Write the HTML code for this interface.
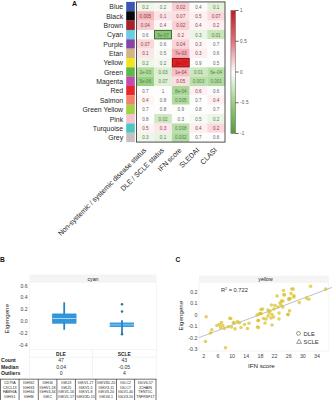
<!DOCTYPE html>
<html><head><meta charset="utf-8"><style>
html,body{margin:0;padding:0;background:#fff;}
body{width:332px;height:400px;overflow:hidden;}
svg{display:block;font-family:"Liberation Sans",sans-serif;}
</style></head><body>
<svg width="332" height="400" viewBox="0 0 332 400">
<rect width="332" height="400" fill="#fff"/>
<text x="72.0" y="5.95" font-size="7" font-weight="bold" fill="#111">A</text>
<text x="123.1" y="9.37" font-size="6.9" text-anchor="end" fill="#262626">Blue</text>
<rect x="126.2" y="1.90" width="8.6" height="9.40" fill="#3a56b4"/>
<text x="123.1" y="18.72" font-size="6.9" text-anchor="end" fill="#262626">Black</text>
<rect x="126.2" y="11.25" width="8.6" height="9.40" fill="#0a0a0a"/>
<text x="123.1" y="28.07" font-size="6.9" text-anchor="end" fill="#262626">Brown</text>
<rect x="126.2" y="20.59" width="8.6" height="9.40" fill="#a8222a"/>
<text x="123.1" y="37.41" font-size="6.9" text-anchor="end" fill="#262626">Cyan</text>
<rect x="126.2" y="29.94" width="8.6" height="9.40" fill="#6acde6"/>
<text x="123.1" y="46.76" font-size="6.9" text-anchor="end" fill="#262626">Purple</text>
<rect x="126.2" y="39.29" width="8.6" height="9.40" fill="#8646a8"/>
<text x="123.1" y="56.11" font-size="6.9" text-anchor="end" fill="#262626">Etan</text>
<rect x="126.2" y="48.63" width="8.6" height="9.40" fill="#d2b48a"/>
<text x="123.1" y="65.45" font-size="6.9" text-anchor="end" fill="#262626">Yellow</text>
<rect x="126.2" y="57.98" width="8.6" height="9.40" fill="#f2e41e"/>
<text x="123.1" y="74.80" font-size="6.9" text-anchor="end" fill="#262626">Green</text>
<rect x="126.2" y="67.33" width="8.6" height="9.40" fill="#5cb84a"/>
<text x="123.1" y="84.15" font-size="6.9" text-anchor="end" fill="#262626">Magenta</text>
<rect x="126.2" y="76.67" width="8.6" height="9.40" fill="#c04eb0"/>
<text x="123.1" y="93.49" font-size="6.9" text-anchor="end" fill="#262626">Red</text>
<rect x="126.2" y="86.02" width="8.6" height="9.40" fill="#e82626"/>
<text x="123.1" y="102.84" font-size="6.9" text-anchor="end" fill="#262626">Salmon</text>
<rect x="126.2" y="95.37" width="8.6" height="9.40" fill="#f2826e"/>
<text x="123.1" y="112.19" font-size="6.9" text-anchor="end" fill="#262626">Green Yellow</text>
<rect x="126.2" y="104.71" width="8.6" height="9.40" fill="#a2d244"/>
<text x="123.1" y="121.53" font-size="6.9" text-anchor="end" fill="#262626">Pink</text>
<rect x="126.2" y="114.06" width="8.6" height="9.40" fill="#f8c2ce"/>
<text x="123.1" y="130.88" font-size="6.9" text-anchor="end" fill="#262626">Turquoise</text>
<rect x="126.2" y="123.41" width="8.6" height="9.40" fill="#4ec6c2"/>
<text x="123.1" y="140.23" font-size="6.9" text-anchor="end" fill="#262626">Grey</text>
<rect x="126.2" y="132.75" width="8.6" height="9.40" fill="#c6c0c2"/>
<rect x="136.50" y="1.90" width="17.75" height="9.40" fill="#eef6ea"/>
<rect x="154.20" y="1.90" width="17.75" height="9.40" fill="#f4f8f1"/>
<rect x="171.90" y="1.90" width="17.75" height="9.40" fill="#f8d0d4"/>
<rect x="189.60" y="1.90" width="17.75" height="9.40" fill="#fbfbfb"/>
<rect x="207.30" y="1.90" width="17.75" height="9.40" fill="#e2f1da"/>
<rect x="136.50" y="11.25" width="17.75" height="9.40" fill="#f5b6bc"/>
<rect x="154.20" y="11.25" width="17.75" height="9.40" fill="#fbe4e6"/>
<rect x="171.90" y="11.25" width="17.75" height="9.40" fill="#fbe0e2"/>
<rect x="189.60" y="11.25" width="17.75" height="9.40" fill="#fcf0f0"/>
<rect x="207.30" y="11.25" width="17.75" height="9.40" fill="#fadadd"/>
<rect x="136.50" y="20.59" width="17.75" height="9.40" fill="#f8ccd0"/>
<rect x="154.20" y="20.59" width="17.75" height="9.40" fill="#fdf6f6"/>
<rect x="171.90" y="20.59" width="17.75" height="9.40" fill="#f9d0d4"/>
<rect x="189.60" y="20.59" width="17.75" height="9.40" fill="#fdf4f4"/>
<rect x="207.30" y="20.59" width="17.75" height="9.40" fill="#fdf0f0"/>
<rect x="136.50" y="29.94" width="17.75" height="9.40" fill="#fcfcfc"/>
<rect x="154.20" y="29.94" width="17.75" height="9.40" fill="#8cc878"/>
<rect x="171.90" y="29.94" width="17.75" height="9.40" fill="#fdeaea"/>
<rect x="189.60" y="29.94" width="17.75" height="9.40" fill="#eaf5e6"/>
<rect x="207.30" y="29.94" width="17.75" height="9.40" fill="#c8e6b8"/>
<rect x="136.50" y="39.29" width="17.75" height="9.40" fill="#fad8da"/>
<rect x="154.20" y="39.29" width="17.75" height="9.40" fill="#fdfdfd"/>
<rect x="171.90" y="39.29" width="17.75" height="9.40" fill="#f9d4d8"/>
<rect x="189.60" y="39.29" width="17.75" height="9.40" fill="#fdf6f6"/>
<rect x="207.30" y="39.29" width="17.75" height="9.40" fill="#fdfdfd"/>
<rect x="136.50" y="48.63" width="17.75" height="9.40" fill="#fbe6e8"/>
<rect x="154.20" y="48.63" width="17.75" height="9.40" fill="#f8faf6"/>
<rect x="171.90" y="48.63" width="17.75" height="9.40" fill="#f4b0b8"/>
<rect x="189.60" y="48.63" width="17.75" height="9.40" fill="#fdeef0"/>
<rect x="207.30" y="48.63" width="17.75" height="9.40" fill="#fdfdfd"/>
<rect x="136.50" y="57.98" width="17.75" height="9.40" fill="#eef6ea"/>
<rect x="154.20" y="57.98" width="17.75" height="9.40" fill="#f4f8f0"/>
<rect x="171.90" y="57.98" width="17.75" height="9.40" fill="#dc2222"/>
<rect x="189.60" y="57.98" width="17.75" height="9.40" fill="#fdfdfd"/>
<rect x="207.30" y="57.98" width="17.75" height="9.40" fill="#fdfdfd"/>
<rect x="136.50" y="67.33" width="17.75" height="9.40" fill="#b0dc9c"/>
<rect x="154.20" y="67.33" width="17.75" height="9.40" fill="#dcefd2"/>
<rect x="171.90" y="67.33" width="17.75" height="9.40" fill="#f6c0c6"/>
<rect x="189.60" y="67.33" width="17.75" height="9.40" fill="#cde8c0"/>
<rect x="207.30" y="67.33" width="17.75" height="9.40" fill="#b8e0a8"/>
<rect x="136.50" y="76.67" width="17.75" height="9.40" fill="#98d084"/>
<rect x="154.20" y="76.67" width="17.75" height="9.40" fill="#e0f0d6"/>
<rect x="171.90" y="76.67" width="17.75" height="9.40" fill="#fae0e2"/>
<rect x="189.60" y="76.67" width="17.75" height="9.40" fill="#b8e0a8"/>
<rect x="207.30" y="76.67" width="17.75" height="9.40" fill="#b0dca0"/>
<rect x="136.50" y="86.02" width="17.75" height="9.40" fill="#fdfdfd"/>
<rect x="154.20" y="86.02" width="17.75" height="9.40" fill="#fdfdfd"/>
<rect x="171.90" y="86.02" width="17.75" height="9.40" fill="#a8d898"/>
<rect x="189.60" y="86.02" width="17.75" height="9.40" fill="#fdf0f2"/>
<rect x="207.30" y="86.02" width="17.75" height="9.40" fill="#fbfbfb"/>
<rect x="136.50" y="95.37" width="17.75" height="9.40" fill="#fdf4f4"/>
<rect x="154.20" y="95.37" width="17.75" height="9.40" fill="#fdfdfd"/>
<rect x="171.90" y="95.37" width="17.75" height="9.40" fill="#b0dca0"/>
<rect x="189.60" y="95.37" width="17.75" height="9.40" fill="#fdfdfd"/>
<rect x="207.30" y="95.37" width="17.75" height="9.40" fill="#fdf0f2"/>
<rect x="136.50" y="104.71" width="17.75" height="9.40" fill="#fdfdfd"/>
<rect x="154.20" y="104.71" width="17.75" height="9.40" fill="#fdfdfd"/>
<rect x="171.90" y="104.71" width="17.75" height="9.40" fill="#fdfdfd"/>
<rect x="189.60" y="104.71" width="17.75" height="9.40" fill="#fdfdfd"/>
<rect x="207.30" y="104.71" width="17.75" height="9.40" fill="#fdfdfd"/>
<rect x="136.50" y="114.06" width="17.75" height="9.40" fill="#fdfdfd"/>
<rect x="154.20" y="114.06" width="17.75" height="9.40" fill="#cfe8c2"/>
<rect x="171.90" y="114.06" width="17.75" height="9.40" fill="#fcfcfc"/>
<rect x="189.60" y="114.06" width="17.75" height="9.40" fill="#f6faf4"/>
<rect x="207.30" y="114.06" width="17.75" height="9.40" fill="#eaf5e6"/>
<rect x="136.50" y="123.41" width="17.75" height="9.40" fill="#fdf2f4"/>
<rect x="154.20" y="123.41" width="17.75" height="9.40" fill="#fce6ea"/>
<rect x="171.90" y="123.41" width="17.75" height="9.40" fill="#b8e0a8"/>
<rect x="189.60" y="123.41" width="17.75" height="9.40" fill="#fdeef0"/>
<rect x="207.30" y="123.41" width="17.75" height="9.40" fill="#fad8dc"/>
<rect x="136.50" y="132.75" width="17.75" height="9.40" fill="#eef6ea"/>
<rect x="154.20" y="132.75" width="17.75" height="9.40" fill="#e6f3e0"/>
<rect x="171.90" y="132.75" width="17.75" height="9.40" fill="#b0dca0"/>
<rect x="189.60" y="132.75" width="17.75" height="9.40" fill="#fdfdfd"/>
<rect x="207.30" y="132.75" width="17.75" height="9.40" fill="#fdfdfd"/>
<rect x="154.60" y="30.34" width="16.90" height="8.55" fill="none" stroke="#2a5a20" stroke-width="0.8"/>
<rect x="172.30" y="58.38" width="16.90" height="8.55" fill="none" stroke="#8a1212" stroke-width="0.8"/>
<text x="145.35" y="8.62" font-size="4.6" text-anchor="middle" fill="#5f7853">0.2</text>
<text x="163.05" y="8.62" font-size="4.6" text-anchor="middle" fill="#637556">0.2</text>
<text x="180.75" y="8.62" font-size="4.6" text-anchor="middle" fill="#88434a">0.02</text>
<text x="198.45" y="8.62" font-size="4.6" text-anchor="middle" fill="#666666">0.4</text>
<text x="216.15" y="8.62" font-size="4.6" text-anchor="middle" fill="#5f7a51">0.1</text>
<text x="145.35" y="17.97" font-size="4.6" text-anchor="middle" fill="#884349">0.005</text>
<text x="163.05" y="17.97" font-size="4.6" text-anchor="middle" fill="#884349">0.1</text>
<text x="180.75" y="17.97" font-size="4.6" text-anchor="middle" fill="#894247">0.07</text>
<text x="198.45" y="17.97" font-size="4.6" text-anchor="middle" fill="#844747">0.5</text>
<text x="216.15" y="17.97" font-size="4.6" text-anchor="middle" fill="#884349">0.07</text>
<text x="145.35" y="27.32" font-size="4.6" text-anchor="middle" fill="#884349">0.04</text>
<text x="163.05" y="27.32" font-size="4.6" text-anchor="middle" fill="#834848">0.4</text>
<text x="180.75" y="27.32" font-size="4.6" text-anchor="middle" fill="#894249">0.02</text>
<text x="198.45" y="27.32" font-size="4.6" text-anchor="middle" fill="#854646">0.4</text>
<text x="216.15" y="27.32" font-size="4.6" text-anchor="middle" fill="#894242">0.2</text>
<text x="145.35" y="36.66" font-size="4.6" text-anchor="middle" fill="#666666">0.6</text>
<text x="163.05" y="36.66" font-size="4.6" text-anchor="middle" fill="#5c7952">9e-07</text>
<text x="180.75" y="36.66" font-size="4.6" text-anchor="middle" fill="#8b4040">0.2</text>
<text x="198.45" y="36.66" font-size="4.6" text-anchor="middle" fill="#5c7952">0.3</text>
<text x="216.15" y="36.66" font-size="4.6" text-anchor="middle" fill="#5f7b50">0.01</text>
<text x="145.35" y="46.01" font-size="4.6" text-anchor="middle" fill="#894246">0.07</text>
<text x="163.05" y="46.01" font-size="4.6" text-anchor="middle" fill="#666666">0.6</text>
<text x="180.75" y="46.01" font-size="4.6" text-anchor="middle" fill="#88434a">0.04</text>
<text x="198.45" y="46.01" font-size="4.6" text-anchor="middle" fill="#834848">0.3</text>
<text x="216.15" y="46.01" font-size="4.6" text-anchor="middle" fill="#666666">0.7</text>
<text x="145.35" y="55.36" font-size="4.6" text-anchor="middle" fill="#87444b">0.1</text>
<text x="163.05" y="55.36" font-size="4.6" text-anchor="middle" fill="#667358">0.5</text>
<text x="180.75" y="55.36" font-size="4.6" text-anchor="middle" fill="#88434b">7e-03</text>
<text x="198.45" y="55.36" font-size="4.6" text-anchor="middle" fill="#8a414b">0.3</text>
<text x="216.15" y="55.36" font-size="4.6" text-anchor="middle" fill="#666666">0.6</text>
<text x="145.35" y="64.70" font-size="4.6" text-anchor="middle" fill="#5f7853">0.2</text>
<text x="163.05" y="64.70" font-size="4.6" text-anchor="middle" fill="#667655">0.2</text>
<text x="180.75" y="64.70" font-size="4.6" text-anchor="middle" fill="#a01212">2e-17</text>
<text x="198.45" y="64.70" font-size="4.6" text-anchor="middle" fill="#666666">0.9</text>
<text x="216.15" y="64.70" font-size="4.6" text-anchor="middle" fill="#666666">0.5</text>
<text x="145.35" y="74.05" font-size="4.6" text-anchor="middle" fill="#5d7b50">2e-03</text>
<text x="163.05" y="74.05" font-size="4.6" text-anchor="middle" fill="#5f7b50">0.03</text>
<text x="180.75" y="74.05" font-size="4.6" text-anchor="middle" fill="#88434b">1e-04</text>
<text x="198.45" y="74.05" font-size="4.6" text-anchor="middle" fill="#5e7b50">0.01</text>
<text x="216.15" y="74.05" font-size="4.6" text-anchor="middle" fill="#5c7b50">6e-04</text>
<text x="145.35" y="83.40" font-size="4.6" text-anchor="middle" fill="#5c7a51">5e-06</text>
<text x="163.05" y="83.40" font-size="4.6" text-anchor="middle" fill="#617b50">0.07</text>
<text x="180.75" y="83.40" font-size="4.6" text-anchor="middle" fill="#874449">0.05</text>
<text x="198.45" y="83.40" font-size="4.6" text-anchor="middle" fill="#5c7b50">0.003</text>
<text x="216.15" y="83.40" font-size="4.6" text-anchor="middle" fill="#5c7b50">0.001</text>
<text x="145.35" y="92.74" font-size="4.6" text-anchor="middle" fill="#666666">0.7</text>
<text x="163.05" y="92.74" font-size="4.6" text-anchor="middle" fill="#666666">1</text>
<text x="180.75" y="92.74" font-size="4.6" text-anchor="middle" fill="#5b7a51">8e-04</text>
<text x="198.45" y="92.74" font-size="4.6" text-anchor="middle" fill="#89424d">0.6</text>
<text x="216.15" y="92.74" font-size="4.6" text-anchor="middle" fill="#666666">0.6</text>
<text x="145.35" y="102.09" font-size="4.6" text-anchor="middle" fill="#854646">0.4</text>
<text x="163.05" y="102.09" font-size="4.6" text-anchor="middle" fill="#666666">0.8</text>
<text x="180.75" y="102.09" font-size="4.6" text-anchor="middle" fill="#5c7b50">0.005</text>
<text x="198.45" y="102.09" font-size="4.6" text-anchor="middle" fill="#666666">0.7</text>
<text x="216.15" y="102.09" font-size="4.6" text-anchor="middle" fill="#89424d">0.4</text>
<text x="145.35" y="111.44" font-size="4.6" text-anchor="middle" fill="#666666">0.7</text>
<text x="163.05" y="111.44" font-size="4.6" text-anchor="middle" fill="#666666">0.8</text>
<text x="180.75" y="111.44" font-size="4.6" text-anchor="middle" fill="#666666">0.9</text>
<text x="198.45" y="111.44" font-size="4.6" text-anchor="middle" fill="#666666">0.8</text>
<text x="216.15" y="111.44" font-size="4.6" text-anchor="middle" fill="#666666">0.7</text>
<text x="145.35" y="120.78" font-size="4.6" text-anchor="middle" fill="#666666">0.8</text>
<text x="163.05" y="120.78" font-size="4.6" text-anchor="middle" fill="#5f7a51">0.02</text>
<text x="180.75" y="120.78" font-size="4.6" text-anchor="middle" fill="#666666">0.3</text>
<text x="198.45" y="120.78" font-size="4.6" text-anchor="middle" fill="#607754">0.5</text>
<text x="216.15" y="120.78" font-size="4.6" text-anchor="middle" fill="#5c7952">0.2</text>
<text x="145.35" y="130.13" font-size="4.6" text-anchor="middle" fill="#874450">0.5</text>
<text x="163.05" y="130.13" font-size="4.6" text-anchor="middle" fill="#8a414f">0.3</text>
<text x="180.75" y="130.13" font-size="4.6" text-anchor="middle" fill="#5c7b50">0.008</text>
<text x="198.45" y="130.13" font-size="4.6" text-anchor="middle" fill="#8a414b">0.4</text>
<text x="216.15" y="130.13" font-size="4.6" text-anchor="middle" fill="#89424a">0.2</text>
<text x="145.35" y="139.48" font-size="4.6" text-anchor="middle" fill="#5f7853">0.3</text>
<text x="163.05" y="139.48" font-size="4.6" text-anchor="middle" fill="#5e7a51">0.1</text>
<text x="180.75" y="139.48" font-size="4.6" text-anchor="middle" fill="#5c7b50">0.002</text>
<text x="198.45" y="139.48" font-size="4.6" text-anchor="middle" fill="#666666">0.7</text>
<text x="216.15" y="139.48" font-size="4.6" text-anchor="middle" fill="#666666">0.6</text>
<rect x="136.50" y="1.90" width="88.50" height="140.20" fill="none" stroke="#505050" stroke-width="1"/>
<defs><linearGradient id="cb" x1="0" y1="0" x2="0" y2="1"><stop offset="0" stop-color="#c81818"/><stop offset="0.25" stop-color="#e4707c"/><stop offset="0.5" stop-color="#ffffff"/><stop offset="0.75" stop-color="#9ccf84"/><stop offset="1" stop-color="#4f9e34"/></linearGradient></defs>
<rect x="230.9" y="10.5" width="4.7" height="123" fill="url(#cb)" stroke="#777" stroke-width="0.6"/>
<line x1="235.4" y1="10.5" x2="238.6" y2="10.5" stroke="#222" stroke-width="0.7"/>
<text x="240.1" y="12.1" font-size="4.6" fill="#555" letter-spacing="0.15">1</text>
<line x1="235.4" y1="41.25" x2="238.6" y2="41.25" stroke="#222" stroke-width="0.7"/>
<text x="240.1" y="42.85" font-size="4.6" fill="#555" letter-spacing="0.15">0.5</text>
<line x1="235.4" y1="72" x2="238.6" y2="72" stroke="#222" stroke-width="0.7"/>
<text x="240.1" y="73.6" font-size="4.6" fill="#555" letter-spacing="0.15">0</text>
<line x1="235.4" y1="102.75" x2="238.6" y2="102.75" stroke="#222" stroke-width="0.7"/>
<text x="240.1" y="104.35" font-size="4.6" fill="#555" letter-spacing="0.15">-0.5</text>
<line x1="235.4" y1="133.5" x2="238.6" y2="133.5" stroke="#222" stroke-width="0.7"/>
<text x="240.1" y="135.1" font-size="4.6" fill="#555" letter-spacing="0.15">-1</text>
<text x="0" y="0" font-size="7.2" text-anchor="end" fill="#222" transform="translate(146.65 150.70) rotate(-45) scale(0.965 1)">Non-systemic / systemic disease status</text>
<text x="0" y="0" font-size="7.2" text-anchor="end" fill="#222" transform="translate(164.35 150.70) rotate(-45) scale(0.965 1)">DLE / SCLE status</text>
<text x="0" y="0" font-size="7.2" text-anchor="end" fill="#222" transform="translate(182.05 150.70) rotate(-45) scale(0.965 1)">IFN score</text>
<text x="0" y="0" font-size="7.2" text-anchor="end" fill="#222" transform="translate(199.75 150.70) rotate(-45) scale(0.965 1)">SLEDAI</text>
<text x="0" y="0" font-size="7.2" text-anchor="end" fill="#222" transform="translate(217.45 150.70) rotate(-45) scale(0.965 1)">CLASI</text>
<text x="0" y="262" font-size="6.6" font-weight="bold" fill="#111">B</text>
<rect x="29.5" y="274.5" width="127" height="7.6" fill="#f4f4f4"/>
<text x="93" y="280.5" font-size="5.2" text-anchor="middle" fill="#222">cyan</text>
<rect x="29.5" y="282.1" width="127" height="67.3" fill="none" stroke="#ececec" stroke-width="0.5"/>
<text x="27.5" y="287.6" font-size="5.1" text-anchor="end" fill="#444">0.6</text>
<text x="27.5" y="299.2" font-size="5.1" text-anchor="end" fill="#444">0.4</text>
<text x="27.5" y="310.8" font-size="5.1" text-anchor="end" fill="#444">0.2</text>
<text x="27.5" y="322.6" font-size="5.1" text-anchor="end" fill="#444">0.0</text>
<text x="27.5" y="334.7" font-size="5.1" text-anchor="end" fill="#444">-0.2</text>
<text x="27.5" y="347.40000000000003" font-size="5.1" text-anchor="end" fill="#444">-0.4</text>
<text x="0" y="0" font-size="6.2" text-anchor="middle" fill="#1a1a1a" transform="translate(9.0 318.8) rotate(-90)">Eigengene</text>
<line x1="64.2" y1="302.3" x2="64.2" y2="329.8" stroke="#2a82c4" stroke-width="1.8"/>
<rect x="52.4" y="313.9" width="23.7" height="9.4" fill="#3196dc" stroke="#2784c8" stroke-width="0.5"/>
<line x1="52.6" y1="318.5" x2="75.9" y2="318.5" stroke="#a8d8f8" stroke-width="1.0"/>
<rect x="109.8" y="322.7" width="24.1" height="4.1" fill="#62b6f2"/>
<line x1="109.8" y1="323.2" x2="133.9" y2="323.2" stroke="#2a8ad4" stroke-width="0.9"/>
<line x1="109.8" y1="326.3" x2="133.9" y2="326.3" stroke="#2a8ad4" stroke-width="0.9"/>
<line x1="122" y1="320.2" x2="122" y2="334" stroke="#2a82c4" stroke-width="1.8"/>
<circle cx="122" cy="304.3" r="1.25" fill="#2a7896"/>
<circle cx="122" cy="311.5" r="1.25" fill="#2a7896"/>
<circle cx="122" cy="334.2" r="1.25" fill="#2a7896"/>
<line x1="29.5" y1="349.4" x2="29.5" y2="378" stroke="#e4e4e4" stroke-width="0.5"/>
<line x1="92.6" y1="349.4" x2="92.6" y2="378" stroke="#e4e4e4" stroke-width="0.5"/>
<line x1="156.3" y1="349.4" x2="156.3" y2="378" stroke="#e4e4e4" stroke-width="0.5"/>
<line x1="29.5" y1="357.2" x2="156.3" y2="357.2" stroke="#e4e4e4" stroke-width="0.5"/>
<text x="61" y="356.1" font-size="4.9" font-weight="bold" text-anchor="middle" fill="#222">DLE</text>
<text x="124.3" y="356.1" font-size="4.9" font-weight="bold" text-anchor="middle" fill="#222">SCLE</text>
<text x="1.0" y="362.3" font-size="5.1" font-weight="bold" fill="#1a1a1a">Count</text>
<text x="61.1" y="362.3" font-size="5.1" text-anchor="middle" fill="#333">47</text>
<text x="124.3" y="362.3" font-size="5.1" text-anchor="middle" fill="#333">43</text>
<text x="1.0" y="368.8" font-size="5.1" font-weight="bold" fill="#1a1a1a">Median</text>
<text x="61.1" y="368.8" font-size="5.1" text-anchor="middle" fill="#333">0.04</text>
<text x="124.3" y="368.8" font-size="5.1" text-anchor="middle" fill="#333">-0.05</text>
<text x="1.0" y="375.0" font-size="5.1" font-weight="bold" fill="#1a1a1a">Outliers</text>
<text x="61.1" y="375.0" font-size="5.1" text-anchor="middle" fill="#333">0</text>
<text x="124.3" y="375.0" font-size="5.1" text-anchor="middle" fill="#333">4</text>
<line x1="0" y1="379.2" x2="156.5" y2="379.2" stroke="#222" stroke-width="0.65"/>
<line x1="0.5" y1="379.2" x2="0.5" y2="400" stroke="#222" stroke-width="0.65"/>
<line x1="19.1" y1="379.2" x2="19.1" y2="400" stroke="#222" stroke-width="0.65"/>
<line x1="38.3" y1="379.2" x2="38.3" y2="400" stroke="#222" stroke-width="0.65"/>
<line x1="56.9" y1="379.2" x2="56.9" y2="400" stroke="#222" stroke-width="0.65"/>
<line x1="75.4" y1="379.2" x2="75.4" y2="400" stroke="#222" stroke-width="0.65"/>
<line x1="95.8" y1="379.2" x2="95.8" y2="400" stroke="#222" stroke-width="0.65"/>
<line x1="116.5" y1="379.2" x2="116.5" y2="400" stroke="#222" stroke-width="0.65"/>
<line x1="134.6" y1="379.2" x2="134.6" y2="400" stroke="#222" stroke-width="0.65"/>
<line x1="156.0" y1="379.2" x2="156.0" y2="400" stroke="#222" stroke-width="0.65"/>
<text x="9.80" y="383.60" font-size="3.6" text-anchor="middle" fill="#222">CD79A</text>
<text x="9.80" y="388.50" font-size="3.6" text-anchor="middle" fill="#222">CXCL13</text>
<text x="9.80" y="393.40" font-size="3.6" text-anchor="middle" fill="#222">FAM96A</text>
<text x="9.80" y="398.30" font-size="3.6" text-anchor="middle" fill="#222">IGHG1</text>
<text x="28.70" y="383.60" font-size="3.6" text-anchor="middle" fill="#222">IGHG2</text>
<text x="28.70" y="388.50" font-size="3.6" text-anchor="middle" fill="#222">IGHG3</text>
<text x="28.70" y="393.40" font-size="3.6" text-anchor="middle" fill="#222">IGHG4</text>
<text x="28.70" y="398.30" font-size="3.6" text-anchor="middle" fill="#222">IGHM</text>
<text x="47.60" y="383.60" font-size="3.6" text-anchor="middle" fill="#222">IGHJ6</text>
<text x="47.60" y="388.50" font-size="3.6" text-anchor="middle" fill="#222">IGHV1-18</text>
<text x="47.60" y="393.40" font-size="3.6" text-anchor="middle" fill="#222">IGHV4-34</text>
<text x="47.60" y="398.30" font-size="3.6" text-anchor="middle" fill="#222">IGKC</text>
<text x="66.15" y="383.60" font-size="3.6" text-anchor="middle" fill="#222">IGKJ3</text>
<text x="66.15" y="388.50" font-size="3.6" text-anchor="middle" fill="#222">IGKJ5</text>
<text x="66.15" y="393.40" font-size="3.6" text-anchor="middle" fill="#222">IGKV1-16</text>
<text x="66.15" y="398.30" font-size="3.6" text-anchor="middle" fill="#222">IGKV1-17</text>
<text x="85.60" y="383.60" font-size="3.6" text-anchor="middle" fill="#222">IGKV1-27</text>
<text x="85.60" y="388.50" font-size="3.6" text-anchor="middle" fill="#222">IGKV1-5</text>
<text x="85.60" y="393.40" font-size="3.6" text-anchor="middle" fill="#222">IGKV1-8</text>
<text x="85.60" y="398.30" font-size="3.6" text-anchor="middle" fill="#222">IGKV3D-15</text>
<text x="106.15" y="383.60" font-size="3.6" text-anchor="middle" fill="#222">IGKV3D-20</text>
<text x="106.15" y="388.50" font-size="3.6" text-anchor="middle" fill="#222">IGKV3-11</text>
<text x="106.15" y="393.40" font-size="3.6" text-anchor="middle" fill="#222">IGKV3-20</text>
<text x="106.15" y="398.30" font-size="3.6" text-anchor="middle" fill="#222">IGKV4-1</text>
<text x="125.55" y="383.60" font-size="3.6" text-anchor="middle" fill="#222">IGLC2</text>
<text x="125.55" y="388.50" font-size="3.6" text-anchor="middle" fill="#222">IGLC7</text>
<text x="125.55" y="393.40" font-size="3.6" text-anchor="middle" fill="#222">IGLV1-40</text>
<text x="125.55" y="398.30" font-size="3.6" text-anchor="middle" fill="#222">IGLV3-10</text>
<text x="145.30" y="383.60" font-size="3.6" text-anchor="middle" fill="#222">IGLV6-57</text>
<text x="145.30" y="388.50" font-size="3.6" text-anchor="middle" fill="#222">JCHAIN</text>
<text x="145.30" y="393.40" font-size="3.6" text-anchor="middle" fill="#222">TENT5C</text>
<text x="145.30" y="398.30" font-size="3.6" text-anchor="middle" fill="#222">TNFRSF17</text>
<text x="175.5" y="261.5" font-size="6.6" font-weight="bold" fill="#111">C</text>
<rect x="199" y="275.6" width="129.8" height="7.2" fill="#f4f4f4"/>
<text x="265.5" y="281.3" font-size="5.2" text-anchor="middle" fill="#222">yellow</text>
<line x1="199" y1="283" x2="199" y2="351" stroke="#e6e6e6" stroke-width="0.5"/>
<line x1="199" y1="351" x2="328.8" y2="351" stroke="#e6e6e6" stroke-width="0.5"/>
<line x1="328.8" y1="283" x2="328.8" y2="351" stroke="#ececec" stroke-width="0.5"/>
<text x="197.5" y="293.85" font-size="5.3" text-anchor="end" fill="#444">0.2</text>
<text x="197.5" y="305.45000000000005" font-size="5.3" text-anchor="end" fill="#444">0.1</text>
<text x="197.5" y="317.05" font-size="5.3" text-anchor="end" fill="#444">0</text>
<text x="197.5" y="328.45000000000005" font-size="5.3" text-anchor="end" fill="#444">-0.1</text>
<text x="197.5" y="340.25" font-size="5.3" text-anchor="end" fill="#444">-0.2</text>
<text x="197.5" y="350.85" font-size="5.3" text-anchor="end" fill="#444">-0.3</text>
<text x="203.80" y="358.0" font-size="5.3" text-anchor="middle" fill="#444">2</text>
<text x="217.95" y="358.0" font-size="5.3" text-anchor="middle" fill="#444">6</text>
<text x="232.10" y="358.0" font-size="5.3" text-anchor="middle" fill="#444">10</text>
<text x="246.25" y="358.0" font-size="5.3" text-anchor="middle" fill="#444">14</text>
<text x="260.40" y="358.0" font-size="5.3" text-anchor="middle" fill="#444">18</text>
<text x="274.55" y="358.0" font-size="5.3" text-anchor="middle" fill="#444">22</text>
<text x="288.70" y="358.0" font-size="5.3" text-anchor="middle" fill="#444">26</text>
<text x="302.85" y="358.0" font-size="5.3" text-anchor="middle" fill="#444">30</text>
<text x="317.00" y="358.0" font-size="5.3" text-anchor="middle" fill="#444">34</text>
<text x="0" y="0" font-size="6.2" text-anchor="middle" fill="#1a1a1a" transform="translate(183.2 315.6) rotate(-90)">Eigengene</text>
<text x="261.4" y="367.6" font-size="6.2" text-anchor="middle" fill="#1a1a1a">IFN score</text>
<text x="221" y="292" font-size="5.7" fill="#333">R<tspan font-size="3.6" dy="-2">2</tspan><tspan dy="2"> = 0.722</tspan></text>
<line x1="199" y1="337.6" x2="332" y2="287.4" stroke="#9296a0" stroke-width="0.6"/>
<circle cx="206.2" cy="316.8" r="1.8" fill="#d9c02a" fill-opacity="0.72"/>
<circle cx="229.8" cy="318.3" r="1.8" fill="#d9c02a" fill-opacity="0.72"/>
<circle cx="221.5" cy="322.5" r="1.8" fill="#d9c02a" fill-opacity="0.72"/>
<circle cx="219.4" cy="324.6" r="1.8" fill="#d9c02a" fill-opacity="0.72"/>
<circle cx="222.8" cy="325.5" r="1.8" fill="#d9c02a" fill-opacity="0.72"/>
<circle cx="216.9" cy="325.5" r="1.8" fill="#d9c02a" fill-opacity="0.72"/>
<circle cx="220.6" cy="327.6" r="1.8" fill="#d9c02a" fill-opacity="0.72"/>
<circle cx="224.4" cy="328.4" r="1.8" fill="#d9c02a" fill-opacity="0.72"/>
<circle cx="228.2" cy="326.8" r="1.8" fill="#d9c02a" fill-opacity="0.72"/>
<circle cx="211.8" cy="329.7" r="1.8" fill="#d9c02a" fill-opacity="0.72"/>
<circle cx="210.5" cy="333" r="1.8" fill="#d9c02a" fill-opacity="0.72"/>
<circle cx="233.3" cy="323" r="1.8" fill="#d9c02a" fill-opacity="0.72"/>
<circle cx="235" cy="328.9" r="1.8" fill="#d9c02a" fill-opacity="0.72"/>
<circle cx="205.5" cy="341.5" r="1.8" fill="#d9c02a" fill-opacity="0.72"/>
<circle cx="225.5" cy="347.8" r="1.8" fill="#d9c02a" fill-opacity="0.72"/>
<circle cx="230.8" cy="318.5" r="1.8" fill="#d9c02a" fill-opacity="0.72"/>
<circle cx="234" cy="322.5" r="1.8" fill="#d9c02a" fill-opacity="0.72"/>
<circle cx="237.5" cy="321.5" r="1.8" fill="#d9c02a" fill-opacity="0.72"/>
<circle cx="239.5" cy="322.8" r="1.8" fill="#d9c02a" fill-opacity="0.72"/>
<circle cx="244.5" cy="324.5" r="1.8" fill="#d9c02a" fill-opacity="0.72"/>
<circle cx="249" cy="323.2" r="1.8" fill="#d9c02a" fill-opacity="0.72"/>
<circle cx="241" cy="327.5" r="1.8" fill="#d9c02a" fill-opacity="0.72"/>
<circle cx="231.5" cy="327" r="1.8" fill="#d9c02a" fill-opacity="0.72"/>
<circle cx="247.5" cy="328.5" r="1.8" fill="#d9c02a" fill-opacity="0.72"/>
<circle cx="257" cy="315" r="1.8" fill="#d9c02a" fill-opacity="0.72"/>
<circle cx="260.5" cy="313.5" r="1.8" fill="#d9c02a" fill-opacity="0.72"/>
<circle cx="258" cy="320.5" r="1.8" fill="#d9c02a" fill-opacity="0.72"/>
<circle cx="257.5" cy="327" r="1.8" fill="#d9c02a" fill-opacity="0.72"/>
<circle cx="261" cy="309.5" r="1.8" fill="#d9c02a" fill-opacity="0.72"/>
<circle cx="277" cy="296" r="1.8" fill="#d9c02a" fill-opacity="0.72"/>
<circle cx="284" cy="294.5" r="1.8" fill="#d9c02a" fill-opacity="0.72"/>
<circle cx="289" cy="298.5" r="1.8" fill="#d9c02a" fill-opacity="0.72"/>
<circle cx="281.5" cy="301" r="1.8" fill="#d9c02a" fill-opacity="0.72"/>
<circle cx="280" cy="303" r="1.8" fill="#d9c02a" fill-opacity="0.72"/>
<circle cx="281" cy="305" r="1.8" fill="#d9c02a" fill-opacity="0.72"/>
<circle cx="271.5" cy="305" r="1.8" fill="#d9c02a" fill-opacity="0.72"/>
<circle cx="275" cy="305.5" r="1.8" fill="#d9c02a" fill-opacity="0.72"/>
<circle cx="278" cy="307" r="1.8" fill="#d9c02a" fill-opacity="0.72"/>
<circle cx="262.5" cy="309" r="1.8" fill="#d9c02a" fill-opacity="0.72"/>
<circle cx="268" cy="310" r="1.8" fill="#d9c02a" fill-opacity="0.72"/>
<circle cx="270" cy="311" r="1.8" fill="#d9c02a" fill-opacity="0.72"/>
<circle cx="274" cy="309" r="1.8" fill="#d9c02a" fill-opacity="0.72"/>
<circle cx="261" cy="313.5" r="1.8" fill="#d9c02a" fill-opacity="0.72"/>
<circle cx="259" cy="314" r="1.8" fill="#d9c02a" fill-opacity="0.72"/>
<circle cx="269" cy="313" r="1.8" fill="#d9c02a" fill-opacity="0.72"/>
<circle cx="272" cy="314.5" r="1.8" fill="#d9c02a" fill-opacity="0.72"/>
<circle cx="279" cy="313" r="1.8" fill="#d9c02a" fill-opacity="0.72"/>
<circle cx="268" cy="316" r="1.8" fill="#d9c02a" fill-opacity="0.72"/>
<circle cx="271" cy="318" r="1.8" fill="#d9c02a" fill-opacity="0.72"/>
<circle cx="273.5" cy="317" r="1.8" fill="#d9c02a" fill-opacity="0.72"/>
<circle cx="266" cy="319" r="1.8" fill="#d9c02a" fill-opacity="0.72"/>
<circle cx="279" cy="319" r="1.8" fill="#d9c02a" fill-opacity="0.72"/>
<circle cx="263.5" cy="318.5" r="1.8" fill="#d9c02a" fill-opacity="0.72"/>
<circle cx="258.5" cy="320.5" r="1.8" fill="#d9c02a" fill-opacity="0.72"/>
<circle cx="265" cy="323" r="1.8" fill="#d9c02a" fill-opacity="0.72"/>
<circle cx="272" cy="325" r="1.8" fill="#d9c02a" fill-opacity="0.72"/>
<circle cx="288" cy="314.5" r="1.8" fill="#d9c02a" fill-opacity="0.72"/>
<circle cx="258.5" cy="327.5" r="1.8" fill="#d9c02a" fill-opacity="0.72"/>
<circle cx="310.6" cy="286.3" r="1.8" fill="#d9c02a" fill-opacity="0.72"/>
<circle cx="325.7" cy="289.1" r="1.8" fill="#d9c02a" fill-opacity="0.72"/>
<circle cx="291.8" cy="289" r="1.8" fill="#d9c02a" fill-opacity="0.72"/>
<circle cx="283.5" cy="290.5" r="1.8" fill="#d9c02a" fill-opacity="0.72"/>
<circle cx="284.3" cy="295.1" r="1.8" fill="#d9c02a" fill-opacity="0.72"/>
<circle cx="291" cy="293.6" r="1.8" fill="#d9c02a" fill-opacity="0.72"/>
<circle cx="294" cy="295.8" r="1.8" fill="#d9c02a" fill-opacity="0.72"/>
<circle cx="290.3" cy="298.8" r="1.8" fill="#d9c02a" fill-opacity="0.72"/>
<circle cx="288.8" cy="299.6" r="1.8" fill="#d9c02a" fill-opacity="0.72"/>
<circle cx="306.5" cy="298.1" r="1.8" fill="#d9c02a" fill-opacity="0.72"/>
<circle cx="308.9" cy="299.3" r="1.8" fill="#d9c02a" fill-opacity="0.72"/>
<circle cx="299.3" cy="302.6" r="1.8" fill="#d9c02a" fill-opacity="0.72"/>
<circle cx="282.8" cy="301.1" r="1.8" fill="#d9c02a" fill-opacity="0.72"/>
<circle cx="282.8" cy="307.1" r="1.8" fill="#d9c02a" fill-opacity="0.72"/>
<circle cx="289.5" cy="310.9" r="1.8" fill="#d9c02a" fill-opacity="0.72"/>
<circle cx="288" cy="314.6" r="1.8" fill="#d9c02a" fill-opacity="0.72"/>
<circle cx="293.2" cy="289.1" r="1.8" fill="#d9c02a" fill-opacity="0.72"/>
<circle cx="293.8" cy="297" r="1.8" fill="#d9c02a" fill-opacity="0.72"/>
<circle cx="298.5" cy="333.4" r="1.9" fill="none" stroke="#333" stroke-width="0.5"/>
<text x="303.6" y="335.5" font-size="5.8" fill="#333">DLE</text>
<path d="M299.1 339.2 L301.5 343.4 L296.7 343.4 Z" fill="none" stroke="#333" stroke-width="0.5"/>
<text x="303.6" y="343.5" font-size="5.8" fill="#333">SCLE</text>
</svg>
</body></html>
